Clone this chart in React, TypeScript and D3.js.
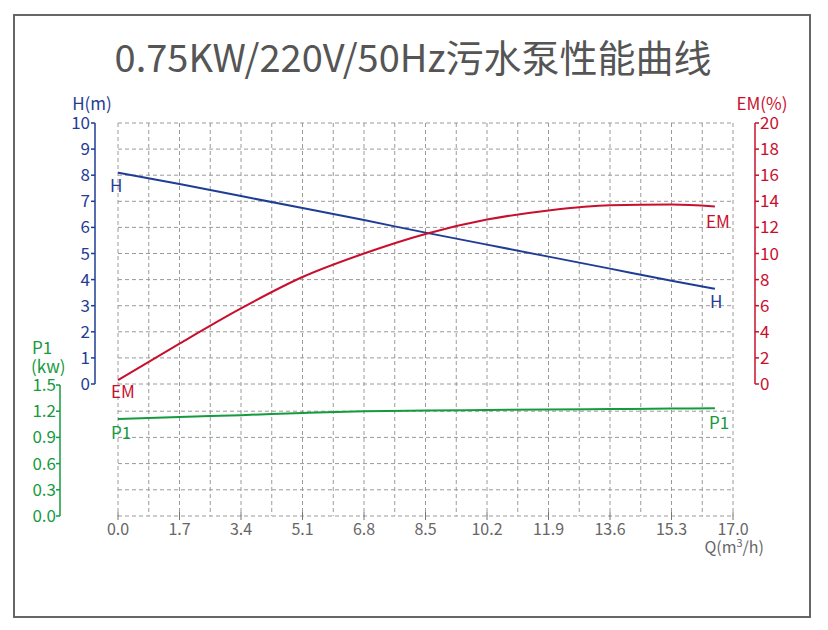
import React, { useRef, useEffect } from 'react'
import * as d3 from 'd3'

// Flow (m3/h) sample points
const flow = [0, 1.7, 3.4, 5.1, 6.8, 8.5, 10.2, 11.9, 13.6, 15.3, 16.5]
const head = [8.1, 7.66, 7.2, 6.74, 6.28, 5.8, 5.34, 4.88, 4.42, 3.96, 3.65]
const efficiency = [0.3, 3.1, 5.8, 8.2, 10.0, 11.5, 12.6, 13.3, 13.7, 13.75, 13.6]
const power = [1.11, 1.135, 1.155, 1.18, 1.2, 1.208, 1.214, 1.22, 1.225, 1.23, 1.235]

const qTicks = [0, 1.7, 3.4, 5.1, 6.8, 8.5, 10.2, 11.9, 13.6, 15.3, 17.0]
const hTicks = [0, 1, 2, 3, 4, 5, 6, 7, 8, 9, 10]
const emTicks = [0, 2, 4, 6, 8, 10, 12, 14, 16, 18, 20]
const pTicks = [0, 0.3, 0.6, 0.9, 1.2, 1.5]

const title = '0.75KW/220V/50Hz污水泵性能曲线'

const BLUE = '#1f3d96'
const RED = '#c8102e'
const GREEN = '#169a3e'
const GREY = '#666'
const FONT = '"Noto Sans CJK SC", "Noto Sans", sans-serif'

export default function App() {
  const svgRef = useRef<SVGSVGElement>(null)

  useEffect(() => {
    const width = 828
    const height = 630
    const svg = d3.select(svgRef.current)
    svg.selectAll('*').remove()
    svg.attr('width', width).attr('height', height).attr('font-family', FONT)

    const x = d3.scaleLinear().domain([0, 17]).range([118, 733])
    const yH = d3.scaleLinear().domain([0, 10]).range([384, 123])
    const yEM = d3.scaleLinear().domain([0, 20]).range([384, 123])
    const yP = d3.scaleLinear().domain([0, 1.5]).range([516, 385])

    // frame
    svg.append('rect')
      .attr('x', 14).attr('y', 15).attr('width', 796).attr('height', 602)
      .attr('fill', '#fff').attr('stroke', '#666').attr('stroke-width', 2)

    svg.append('text')
      .attr('x', 413).attr('y', 72)
      .attr('text-anchor', 'middle')
      .attr('font-size', 38)
      .attr('fill', '#555')
      .text(title)

    // grid
    const grid = svg.append('g')
      .attr('stroke', '#9a9a9a').attr('stroke-dasharray', '4,3').attr('stroke-width', 1)
    d3.range(0, 21).forEach(i => {
      const xv = x(i * 0.85)
      grid.append('line').attr('x1', xv).attr('x2', xv).attr('y1', 123).attr('y2', 516)
    })
    hTicks.forEach(t => {
      grid.append('line').attr('x1', x(0)).attr('x2', x(17)).attr('y1', yH(t)).attr('y2', yH(t))
    })
    pTicks.slice(0, -1).forEach(t => {
      grid.append('line').attr('x1', x(0)).attr('x2', x(17)).attr('y1', yP(t)).attr('y2', yP(t))
    })

    // bottom axis ticks + labels
    qTicks.forEach(t => {
      svg.append('line')
        .attr('x1', x(t)).attr('x2', x(t)).attr('y1', 512).attr('y2', 520)
        .attr('stroke', '#777')
      svg.append('text')
        .attr('x', x(t)).attr('y', 535)
        .attr('text-anchor', 'middle').attr('font-size', 16).attr('fill', GREY)
        .text(t.toFixed(1))
    })
    const qLabel = svg.append('text')
      .attr('x', 764).attr('y', 553)
      .attr('text-anchor', 'end').attr('font-size', 16).attr('fill', GREY)
    qLabel.append('tspan').text('Q(m')
    qLabel.append('tspan').attr('font-size', 11).attr('dy', -6).text('3')
    qLabel.append('tspan').attr('dy', 6).text('/h)')

    // left H axis
    const hAxis = svg.append('g')
    hAxis.append('line').attr('x1', 95).attr('x2', 95).attr('y1', yH(10)).attr('y2', yH(0))
      .attr('stroke', BLUE).attr('stroke-width', 1.5)
    hTicks.forEach(t => {
      hAxis.append('line').attr('x1', 91).attr('x2', 95).attr('y1', yH(t)).attr('y2', yH(t))
        .attr('stroke', BLUE).attr('stroke-width', 1.5)
      hAxis.append('text').attr('x', 90).attr('y', yH(t) + 6)
        .attr('text-anchor', 'end').attr('font-size', 17).attr('fill', BLUE).text(t)
    })
    svg.append('text').attr('x', 92).attr('y', 110)
      .attr('text-anchor', 'middle').attr('font-size', 17).attr('fill', BLUE).text('H(m)')

    // P1 axis
    const pAxis = svg.append('g')
    pAxis.append('line').attr('x1', 60).attr('x2', 60).attr('y1', yP(1.5)).attr('y2', yP(0))
      .attr('stroke', GREEN).attr('stroke-width', 1.5)
    pTicks.forEach(t => {
      pAxis.append('line').attr('x1', 56).attr('x2', 60).attr('y1', yP(t)).attr('y2', yP(t))
        .attr('stroke', GREEN).attr('stroke-width', 1.5)
      pAxis.append('text').attr('x', 56).attr('y', yP(t) + 6)
        .attr('text-anchor', 'end').attr('font-size', 17).attr('fill', GREEN).text(t.toFixed(1))
    })
    svg.append('text').attr('x', 32).attr('y', 354)
      .attr('font-size', 17).attr('fill', GREEN).text('P1')
    svg.append('text').attr('x', 31).attr('y', 373)
      .attr('font-size', 17).attr('fill', GREEN).text('(kw)')

    // right EM axis
    const eAxis = svg.append('g')
    eAxis.append('line').attr('x1', 755).attr('x2', 755).attr('y1', yEM(20)).attr('y2', yEM(0))
      .attr('stroke', RED).attr('stroke-width', 1.5)
    emTicks.forEach(t => {
      eAxis.append('line').attr('x1', 755).attr('x2', 759).attr('y1', yEM(t)).attr('y2', yEM(t))
        .attr('stroke', RED).attr('stroke-width', 1.5)
      eAxis.append('text').attr('x', 760).attr('y', yEM(t) + 6)
        .attr('font-size', 17).attr('fill', RED).text(t)
    })
    svg.append('text').attr('x', 762).attr('y', 110)
      .attr('text-anchor', 'middle').attr('font-size', 17).attr('fill', RED).text('EM(%)')

    // curves
    const curves = [
      { vals: head, y: yH, color: BLUE },
      { vals: efficiency, y: yEM, color: RED },
      { vals: power, y: yP, color: GREEN },
    ]
    curves.forEach(c => {
      const line = d3.line<number>()
        .x((_, i) => x(flow[i]))
        .y(d => c.y(d))
        .curve(d3.curveMonotoneX)
      svg.append('path')
        .datum(c.vals)
        .attr('d', line)
        .attr('fill', 'none')
        .attr('stroke', c.color)
        .attr('stroke-width', 2)
    })

    // curve labels at both ends
    const last = flow.length - 1
    const labels = [
      { t: 'H', x: x(flow[0]) - 8, y: yH(head[0]) + 19, c: BLUE },
      { t: 'H', x: x(flow[last]) - 5, y: yH(head[last]) + 19, c: BLUE },
      { t: 'EM', x: x(flow[0]) - 7, y: yEM(efficiency[0]) + 18, c: RED },
      { t: 'EM', x: x(flow[last]) - 9, y: yEM(efficiency[last]) + 21, c: RED },
      { t: 'P1', x: x(flow[0]) - 7, y: yP(power[0]) + 20, c: GREEN },
      { t: 'P1', x: x(flow[last]) - 6, y: yP(power[last]) + 21, c: GREEN },
    ]
    labels.forEach(l => {
      svg.append('text').attr('x', l.x).attr('y', l.y)
        .attr('font-size', 17).attr('fill', l.c).text(l.t)
    })
  }, [])

  return (
    <div style={{ position: 'absolute', left: 0, top: 0 }}>
      <svg ref={svgRef} style={{ display: 'block' }} />
    </div>
  )
}
